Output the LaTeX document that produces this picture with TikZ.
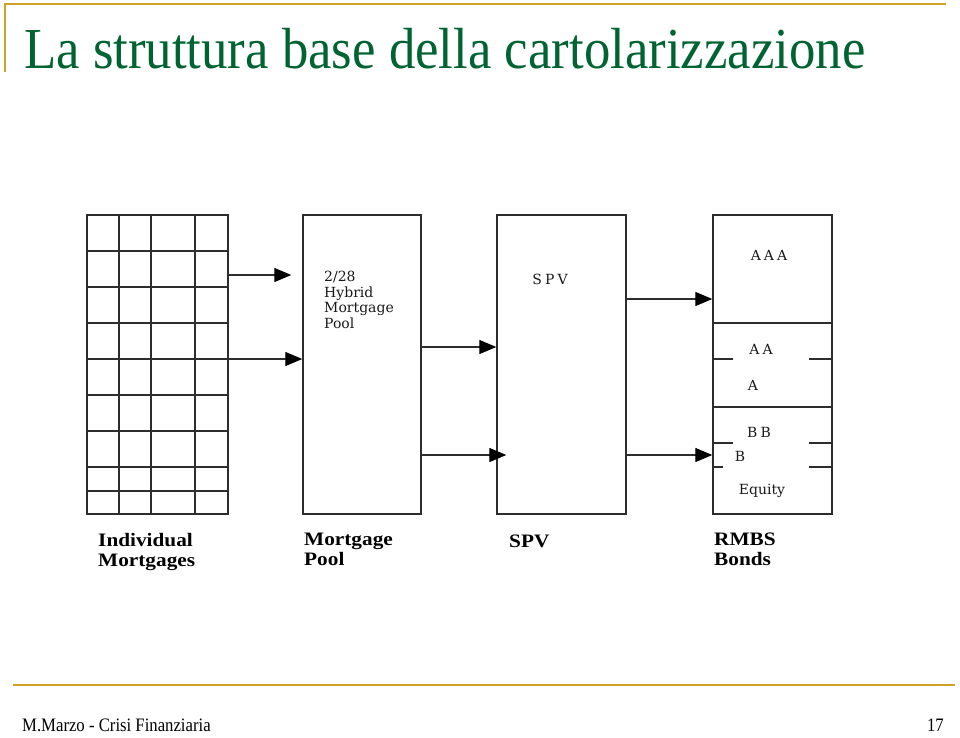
\documentclass[tikz,border=0pt]{standalone}
\usepackage{fontspec}
\setmainfont{Liberation Serif}
\newfontfamily\boxfont{DejaVu Serif}
\newfontfamily\capfont[LetterSpace=22]{DejaVu Serif}
\usetikzlibrary{arrows.meta}
\definecolor{gold}{RGB}{205,160,40}
\definecolor{titlegreen}{RGB}{0,100,50}
\definecolor{linegray}{RGB}{45,45,45}
\tikzset{
  box/.style={draw=linegray, line width=1.4pt, minimum width=#1, minimum height=299pt, inner sep=0pt},
  gline/.style={draw=linegray, line width=1.4pt},
  arr/.style={draw=linegray, line width=1.2pt, -{Triangle[length=17pt,width=14pt,fill=black,color=black]}},
  boxtxt/.style={font=\boxfont\fontsize{14}{15.7}\selectfont, inner sep=0pt, text=black!90},
  captxt/.style={font=\capfont\fontsize{14}{15.7}\selectfont, inner sep=0pt, text=black!90},
  lab/.style={font=\fontsize{19}{20}\selectfont\bfseries, anchor=north west, align=left, inner sep=0pt, xscale=1.12},
}
\begin{document}
\begin{tikzpicture}[x=1pt,y=-1pt]
\useasboundingbox (0,0) rectangle (960,737);
% slide frame
\draw[gold, line width=2.5pt] (5,72) coordinate (fl) -- (5,4) coordinate (ft) -- (946,4) coordinate (fr);
\draw[gold, line width=2.5pt] (13,685) coordinate (bl) -- (955,685) coordinate (br);
\node[anchor=base west, inner sep=0pt, text=titlegreen, font=\fontsize{58}{62}\selectfont, xscale=0.91] (title) at (24,68) {La struttura base della cartolarizzazione};
\node[anchor=base west, inner sep=0pt, font=\fontsize{19}{20}\selectfont, xscale=0.88] (footer) at (22,731) {M.Marzo - Crisi Finanziaria};
\node[anchor=base east, inner sep=0pt, font=\fontsize{19}{20}\selectfont, xscale=0.88] (page) at (944,731) {17};

% boxes
\node[box=141pt] (grid) at (157.5,364.5) {};
\node[box=118pt] (pool) at (362,364.5) {};
\node[box=129pt] (spv) at (561.5,364.5) {};
\node[box=119pt] (rmbs) at (772.5,364.5) {};

% grid lines
\foreach \x in {119,151,195} \draw[gline] (grid.north west -| \x,0) -- (grid.south west -| \x,0);
\foreach \y in {251,287,323,359,395,431,467,491} \draw[gline] (grid.north west |- 0,\y) -- (grid.north east |- 0,\y);

% rmbs tranche lines
\draw[gline] (rmbs.west |- 0,323) -- (rmbs.east |- 0,323);
\draw[gline] (rmbs.west |- 0,407) -- (rmbs.east |- 0,407);
\foreach \y/\l in {359/733,443/733,467/723} {
  \draw[gline] (rmbs.west |- 0,\y) -- (\l,\y);
  \draw[gline] (809,\y) -- (rmbs.east |- 0,\y);
}

% arrows
\draw[arr, shorten >=11pt] (grid.east |- 0,275) -- (pool.west |- 0,275);
\draw[arr] (grid.east |- 0,359) -- (pool.west |- 0,359);
\draw[arr] (pool.east |- 0,347) -- (spv.west |- 0,347);
\draw[arr, shorten >=-10pt] (pool.east |- 0,455) -- (spv.west |- 0,455);
\draw[arr] (spv.east |- 0,299) -- (rmbs.west |- 0,299);
\draw[arr] (spv.east |- 0,455) -- (rmbs.west |- 0,455);

% box texts
\node[boxtxt, anchor=north west, align=left] (pooltxt) at (324,271) {2/28\\Hybrid\\Mortgage\\Pool};
\node[captxt] (spvtxt) at (550,279) {SPV};
\node[captxt] (aaa) at (769,255) {AAA};
\node[captxt] (aa) at (761,349) {AA};
\node[captxt] (a) at (753,385) {A};
\node[captxt] (bb) at (759,432) {BB};
\node[captxt] (b) at (740,456) {B};
\node[boxtxt] (eq) at (762,491) {Equity};

% labels
\node[lab] (l1) at (98,533) {Individual\\Mortgages};
\node[lab] (l2) at (304,533) {Mortgage\\Pool};
\node[lab] (l3) at (509,535) {SPV};
\node[lab] (l4) at (714,533) {RMBS\\Bonds};
\end{tikzpicture}
\end{document}
